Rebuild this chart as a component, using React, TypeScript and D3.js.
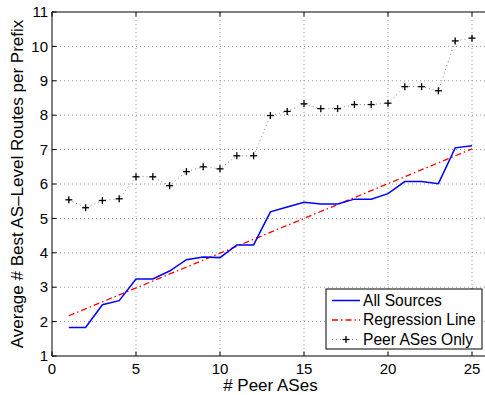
import React from "react";
import * as d3 from "d3";

const peers = [1, 2, 3, 4, 5, 6, 7, 8, 9, 10, 11, 12, 13, 14, 15, 16, 17, 18, 19, 20, 21, 22, 23, 24, 25];
const allSources = [1.83, 1.83, 2.49, 2.61, 3.24, 3.24, 3.47, 3.8, 3.88, 3.86, 4.23, 4.23, 5.19, 5.33, 5.47, 5.42, 5.42, 5.56, 5.56, 5.72, 6.07, 6.07, 6.01, 7.05, 7.11];
const peerOnly = [5.54, 5.31, 5.52, 5.57, 6.21, 6.21, 5.95, 6.36, 6.5, 6.44, 6.82, 6.82, 7.99, 8.11, 8.33, 8.19, 8.19, 8.31, 8.31, 8.35, 8.83, 8.83, 8.71, 10.16, 10.24];
const regressionX = [1, 25];
const regressionY = [2.17, 7.02];
const xTicks = [0, 5, 10, 15, 20, 25];
const yTicks = [1, 2, 3, 4, 5, 6, 7, 8, 9, 10, 11];
const legendLabels = ["All Sources", "Regression Line", "Peer ASes Only"];

const W = 485;
const H = 395;
const FONT = "'Liberation Sans', Arial, Helvetica, sans-serif";

export default function App() {
  const x = d3.scaleLinear().domain([0, 26]).range([52, 488.8]);
  const y = d3.scaleLinear().domain([1, 11]).range([356, 12]);
  const line = d3
    .line<[number, number]>()
    .x((d) => x(d[0]))
    .y((d) => y(d[1]));

  const allPts = peers.map((p, i) => [p, allSources[i]] as [number, number]);
  const peerPts = peers.map((p, i) => [p, peerOnly[i]] as [number, number]);
  const regPts = regressionX.map((p, i) => [p, regressionY[i]] as [number, number]);

  const left = x(0);
  const right = x(26);
  const top = y(11);
  const bottom = y(1);

  const plus = (cx: number, cy: number, key: string) => (
    <g key={key} stroke="#000" strokeWidth={1.3}>
      <line x1={cx - 3.5} x2={cx + 3.5} y1={cy} y2={cy} />
      <line x1={cx} x2={cx} y1={cy - 3.5} y2={cy + 3.5} />
    </g>
  );

  const lgX = 326;
  const lgY = 289;
  const lgW = 156;
  const lgH = 60;
  const rowY = [300.5, 320, 339.5];

  return (
    <div style={{ position: "absolute", left: 0, top: 0 }}>
      <svg width={W} height={H} style={{ display: "block", background: "#fff" }} fontFamily={FONT}>
        {/* grid */}
        <g stroke="#999" strokeWidth={1} strokeDasharray="1,3">
          {xTicks.filter((t) => t > 0).map((t) => (
            <line key={"gx" + t} x1={x(t)} x2={x(t)} y1={top} y2={bottom} />
          ))}
          {yTicks.filter((t) => t > 1 && t < 11).map((t) => (
            <line key={"gy" + t} x1={left} x2={right} y1={y(t)} y2={y(t)} />
          ))}
        </g>
        {/* data */}
        <path d={line(peerPts) || ""} fill="none" stroke="#888" strokeWidth={1} strokeDasharray="1,3" />
        <path d={line(regPts) || ""} fill="none" stroke="#ff0000" strokeWidth={1.3} strokeDasharray="6,3,1.5,3" />
        <path d={line(allPts) || ""} fill="none" stroke="#0000ff" strokeWidth={1.5} />
        {peerPts.map((d, i) => plus(x(d[0]), y(d[1]), "p" + i))}
        {/* axes */}
        <g stroke="#000" strokeWidth={1} fill="none">
          <line x1={left} x2={right} y1={top} y2={top} />
          <line x1={left} x2={right} y1={bottom} y2={bottom} />
          <line x1={left} x2={left} y1={top} y2={bottom} />
          {xTicks.map((t) => (
            <g key={"tx" + t}>
              <line x1={x(t)} x2={x(t)} y1={bottom} y2={bottom - 4.5} />
              <line x1={x(t)} x2={x(t)} y1={top} y2={top + 4.5} />
            </g>
          ))}
          {yTicks.map((t) => (
            <line key={"ty" + t} x1={left} x2={left + 4.5} y1={y(t)} y2={y(t)} />
          ))}
        </g>
        <g fontSize={15} fill="#000">
          {xTicks.map((t) => (
            <text key={"lx" + t} x={x(t)} y={bottom + 18} textAnchor="middle">
              {t}
            </text>
          ))}
          {yTicks.map((t) => (
            <text key={"ly" + t} x={left - 4} y={y(t)} dy="0.35em" textAnchor="end">
              {t}
            </text>
          ))}
        </g>
        <text x={(left + right) / 2} y={391} textAnchor="middle" fontSize={17} fill="#000">
          # Peer ASes
        </text>
        <text
          transform={`translate(22.5, ${(top + bottom) / 2}) rotate(-90)`}
          textAnchor="middle"
          fontSize={17}
          fill="#000"
        >
          Average # Best AS–Level Routes per Prefix
        </text>
        {/* legend */}
        <rect x={lgX} y={lgY} width={lgW} height={lgH} fill="#fff" stroke="#000" strokeWidth={1} />
        <line x1={332} x2={360} y1={rowY[0]} y2={rowY[0]} stroke="#0000ff" strokeWidth={1.5} />
        <line x1={332} x2={360} y1={rowY[1]} y2={rowY[1]} stroke="#ff0000" strokeWidth={1.3} strokeDasharray="6,3,1.5,3" />
        <line x1={332} x2={360} y1={rowY[2]} y2={rowY[2]} stroke="#888" strokeWidth={1} strokeDasharray="1,3" />
        {plus(346, rowY[2], "lg")}
        <g fontSize={15.6} fill="#000">
          {legendLabels.map((l, i) => (
            <text key={l} x={363} y={rowY[i]} dy="0.35em">
              {l}
            </text>
          ))}
        </g>
      </svg>
    </div>
  );
}
